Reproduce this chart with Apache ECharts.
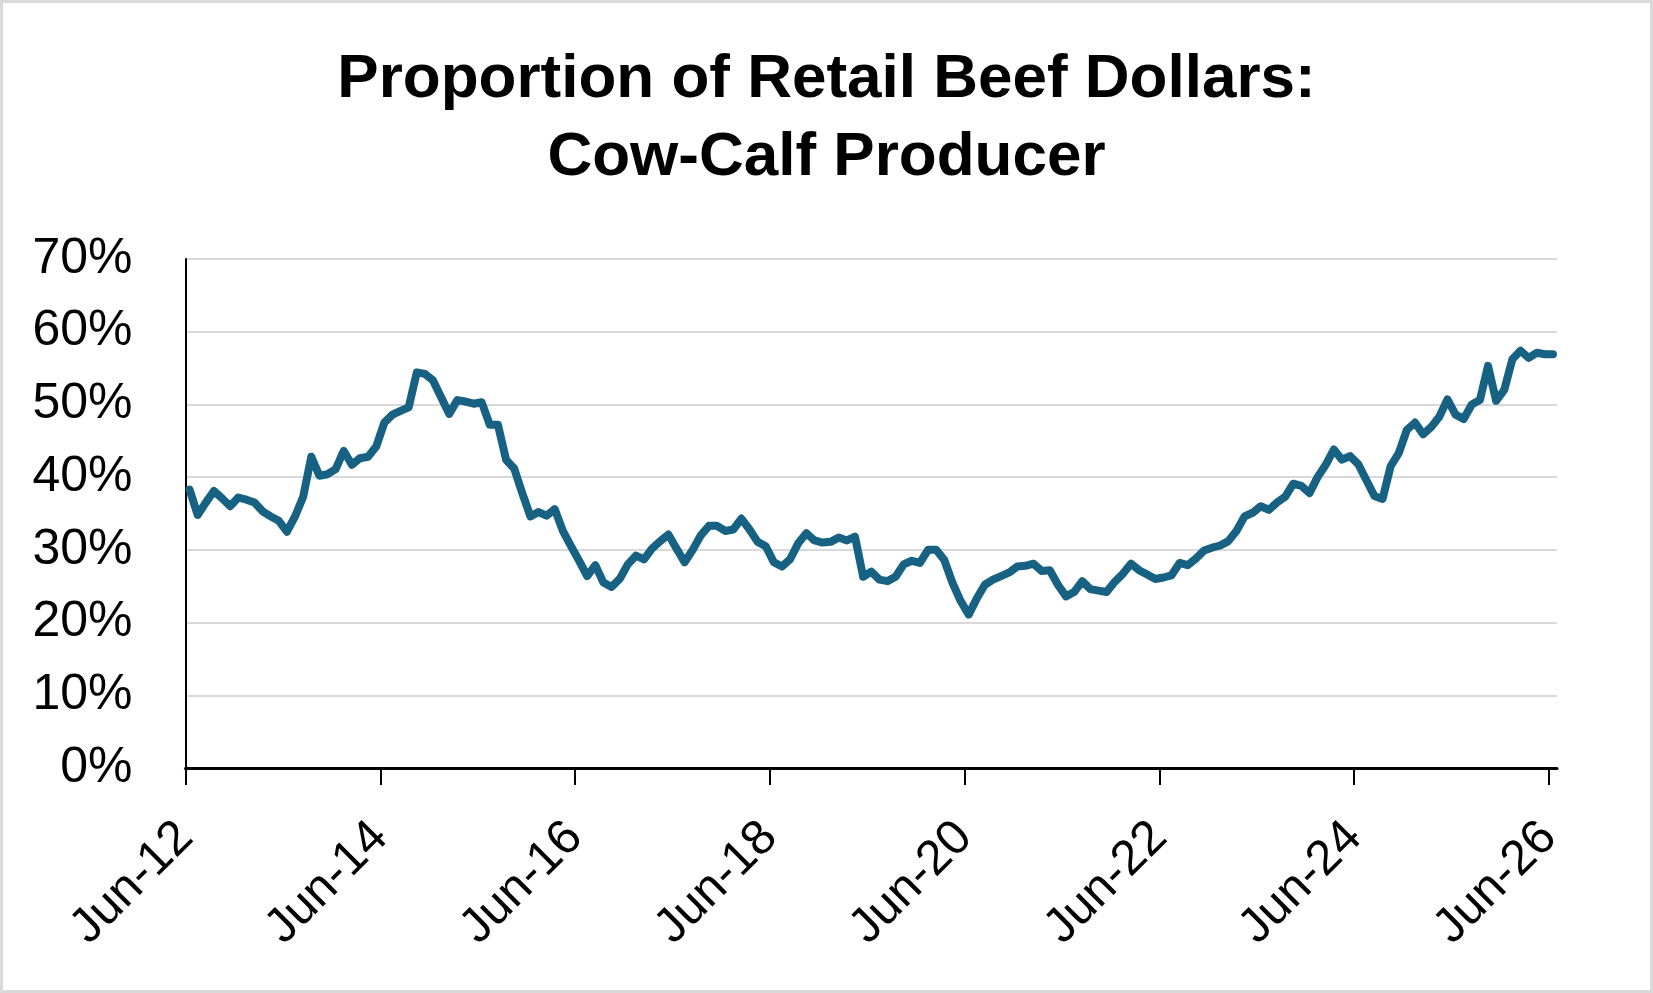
<!DOCTYPE html>
<html>
<head>
<meta charset="utf-8">
<script src="https://cdn.jsdelivr.net/npm/echarts@6/dist/echarts.min.js"></script>
<style>
  html, body { margin: 0; padding: 0; background: #fff; }
  #wrap { position: relative; width: 1653px; height: 993px; }
  #chart { width: 1653px; height: 993px; }
  #frame { position: absolute; left: 0; top: 0; width: 1653px; height: 993px; box-sizing: border-box;
           border: 3px solid #d9d9d9; pointer-events: none; }
</style>
</head>
<body>
<div id="wrap">
  <div id="chart"></div>
  <div id="frame"></div>
</div>
<script>
// monthly share (%) Jun-12 .. Jun-26
const share = [
  38.3, 34.8, 36.5, 38.1, 37.1, 36.0, 37.2, 36.9, 36.5, 35.3, 34.6, 34.0,
  32.5, 34.6, 37.3, 42.8, 40.2, 40.4, 41.1, 43.6, 41.7, 42.6, 42.8, 44.2,
  47.5, 48.6, 49.1, 49.6, 54.4, 54.2, 53.3, 51.0, 48.7, 50.6, 50.4, 50.1,
  50.3, 47.2, 47.2, 42.4, 41.2, 37.8, 34.6, 35.2, 34.7, 35.6, 32.6, 30.5,
  28.5, 26.4, 27.9, 25.5, 24.9, 26.0, 28.0, 29.2, 28.7, 30.2, 31.2, 32.1,
  30.2, 28.3, 30.0, 32.0, 33.3, 33.3, 32.6, 32.8, 34.3, 32.8, 31.1, 30.5,
  28.3, 27.7, 28.7, 30.9, 32.3, 31.3, 31.0, 31.1, 31.7, 31.3, 31.8, 26.3,
  27.0, 25.9, 25.7, 26.3, 28.0, 28.5, 28.2, 30.0, 30.0, 28.6, 25.5, 23.0,
  21.1, 23.3, 25.2, 25.9, 26.4, 26.9, 27.7, 27.8, 28.1, 27.1, 27.2, 25.2,
  23.6, 24.2, 25.7, 24.6, 24.4, 24.2, 25.6, 26.7, 28.1, 27.2, 26.6, 26.0,
  26.2, 26.5, 28.2, 27.9, 28.8, 29.9, 30.3, 30.6, 31.2, 32.6, 34.6, 35.1,
  36.0, 35.5, 36.5, 37.3, 39.1, 38.8, 37.8, 40.0, 41.7, 43.8, 42.4, 42.9,
  41.8, 39.6, 37.4, 37.0, 41.5, 43.3, 46.5, 47.5, 45.9, 46.9, 48.3, 50.7,
  48.6, 48.0, 50.0, 50.6, 55.3, 50.5, 52.0, 56.2, 57.4, 56.4, 57.1, 56.9,
  56.9
];
// x-axis ticks: months since Jun-12
const tickMonths = [0, 24, 48, 72, 96, 120, 144, 168];
const tickLabels = ['Jun-12', 'Jun-14', 'Jun-16', 'Jun-18', 'Jun-20', 'Jun-22', 'Jun-24', 'Jun-26'];
const titleText = 'Proportion of Retail Beef Dollars:\nCow-Calf Producer';

const chart = echarts.init(document.getElementById('chart'));
// each month is plotted at its middle
const points = share.map((v, i) => [i + 0.5, v]);

const font = '"Liberation Sans", Arial, sans-serif';

const option = {
  backgroundColor: '#fff',
  animation: false,
  title: {
    text: titleText,
    left: 'center',
    top: 36,
    textStyle: {
      fontFamily: font,
      fontSize: 62,
      fontWeight: 'bold',
      color: '#000',
      lineHeight: 78
    }
  },
  grid: {
    left: 185.5,
    right: 96,
    top: 259,
    bottom: 225,
    outerBoundsMode: 'none'
  },
  xAxis: {
    type: 'value',
    min: 0,
    max: 169,
    interval: 24,
    splitLine: { show: false },
    axisLine: { show: true, lineStyle: { color: '#000', width: 3 } },
    axisTick: {
      show: true,
      length: 17,
      customValues: tickMonths,
      lineStyle: { color: '#000', width: 2 }
    },
    axisLabel: {
      customValues: tickMonths,
      rotate: 45,
      margin: 62,
      fontFamily: font,
      fontSize: 49,
      color: '#000',
      formatter: v => tickLabels[tickMonths.indexOf(v)] || ''
    }
  },
  yAxis: {
    type: 'value',
    min: 0,
    max: 70,
    interval: 10,
    axisLine: { show: true, lineStyle: { color: '#000', width: 2 } },
    axisTick: { show: false },
    splitLine: { lineStyle: { color: '#d9d9d9', width: 2 } },
    axisLabel: {
      margin: 53,
      fontFamily: font,
      fontSize: 50,
      color: '#000',
      formatter: '{value}%'
    }
  },
  series: [
    {
      type: 'line',
      data: points,
      symbol: 'none',
      smooth: false,
      lineStyle: { color: '#176183', width: 8, cap: 'round', join: 'round' }
    }
  ]
};

chart.setOption(option);
</script>
</body>
</html>
